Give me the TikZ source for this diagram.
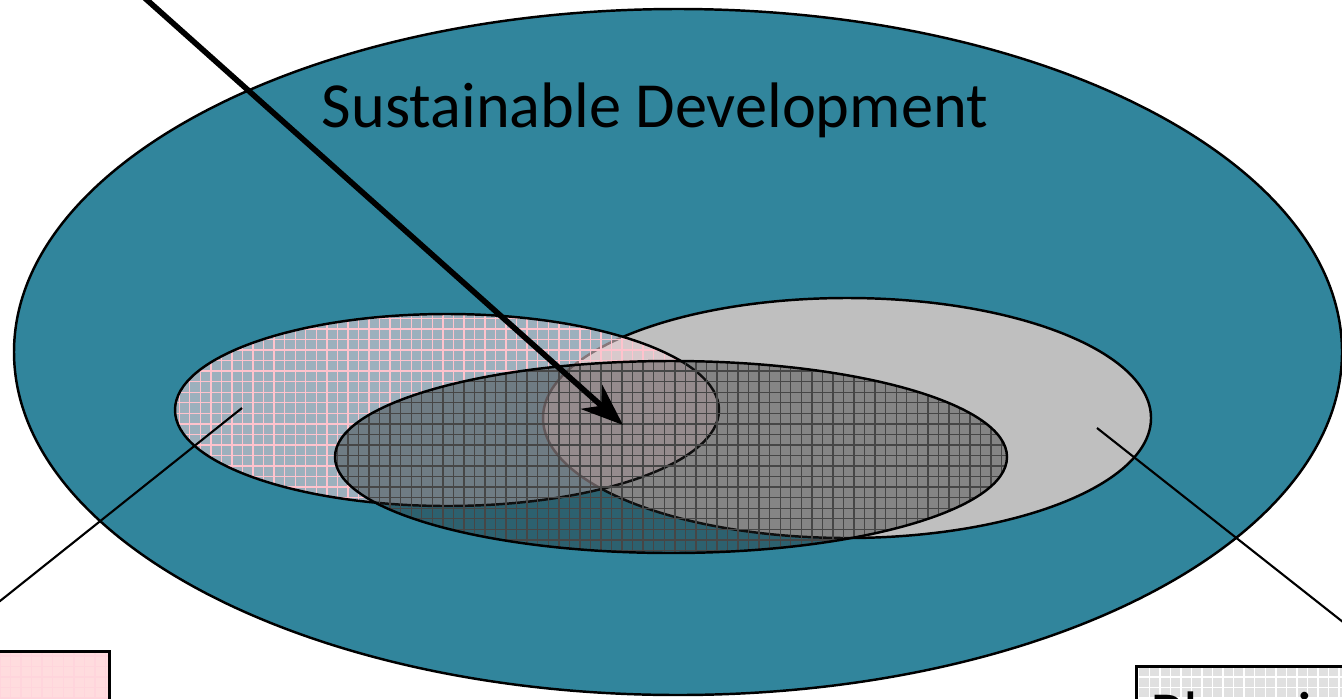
\documentclass[tikz,border=0pt]{standalone}
\usepackage{fontspec}
\setmainfont{Carlito}
\usetikzlibrary{shapes.geometric,patterns,arrows.meta}

\definecolor{seablue}{RGB}{49,133,156}
\definecolor{lightgrey}{RGB}{191,191,191}
\definecolor{pinkfill}{RGB}{238,210,215}
\definecolor{pinkgrid}{RGB}{255,195,205}
\definecolor{darkfill}{RGB}{40,40,40}
\definecolor{gridgrey}{RGB}{70,70,70}
\definecolor{boxpink}{RGB}{255,220,222}
\definecolor{boxgrey}{RGB}{224,224,224}

\tikzset{
	oval/.style={ellipse, draw, line width=0.7pt, inner sep=0pt},
	tag/.style={draw, line width=0.8pt},
	leader/.style={line width=0.6pt},
	big/.style={font=\fontsize{18.3}{22}\selectfont}
}

\begin{document}
\begin{tikzpicture}[x=0.1mm, y=-0.1mm]
	\useasboundingbox (0,0) rectangle (1342,698);
	\clip (0,0) rectangle (1342,698);

	% outer ring and the three overlapping fields
	\node[oval, fill=seablue, minimum width=132.8mm, minimum height=68.6mm] (sd) at (678,352) {};
	\node[oval, fill=lightgrey, minimum width=60.8mm, minimum height=24mm] (right) at (847,418) {};
	\node[oval, preaction={fill=pinkfill, fill opacity=0.57},
		preaction={pattern=grid, pattern color=pinkgrid, fill opacity=0.7},
		minimum width=54.4mm, minimum height=19.2mm] (left) at (447,410) {};
	\node[oval, preaction={fill=darkfill, fill opacity=0.38},
		preaction={pattern=grid, pattern color=gridgrey, fill opacity=0.6},
		minimum width=67.2mm, minimum height=19.2mm] (mid) at (671,457) {};

	\node[big] (title) at (655,110) {Sustainable Development};

	% boxes below, only their tops show
	\node[tag, preaction={fill=boxpink}, preaction={pattern=grid, pattern color=pinkgrid!70},
		minimum width=34.2mm, minimum height=12mm, anchor=north east] (lbox) at (111,650) {};
	\node[tag, preaction={fill=boxgrey}, preaction={pattern=grid, pattern color=white},
		minimum width=52.2mm, minimum height=12mm, anchor=north west] (rbox) at (1135,665) {};
	\node[big, anchor=base west, inner sep=0pt] (plan) at (1150,736) {Planning};

	\coordinate (lin) at (242,408);
	\coordinate (rin) at (1097,428);
	\draw[leader] (lin) -- (lbox.north);
	\draw[leader] (rin) -- (rbox.north);

	\coordinate (src) at (100,-42);
	\coordinate (tip) at (623,425);
	\draw[line width=1.6pt, -{Stealth[length=4.2mm, width=3.2mm, inset=1.3mm]}] (src) -- (tip);
\end{tikzpicture}
\end{document}
